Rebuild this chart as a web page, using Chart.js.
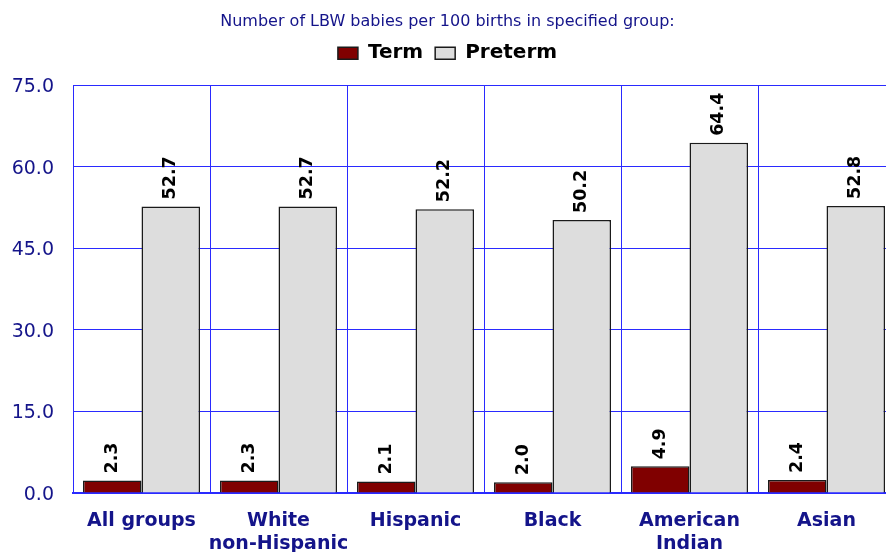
<!DOCTYPE html>
<html>
<head>
<meta charset="utf-8">
<script src="https://cdn.jsdelivr.net/npm/chart.js@4/dist/chart.umd.min.js"></script>
<style>
  html, body { margin: 0; padding: 0; background: #fff; overflow: hidden; }
  #wrap { width: 896px; height: 552px; }
</style>
</head>
<body>
<div id="wrap"><canvas id="my-chart"></canvas></div>
<script>
// chart data
const groups = [['All groups'], ['White', 'non-Hispanic'], ['Hispanic'], ['Black'], ['American', 'Indian'], ['Asian']]
const term = [2.3, 2.3, 2.1, 2.0, 4.9, 2.4]
const preterm = [52.7, 52.7, 52.2, 50.2, 64.4, 52.8]
const yTicks = [0, 15, 30, 45, 60, 75]

const font = '"DejaVu Sans", Verdana, sans-serif'
const navy = '#14148a'
const gridBlue = '#2a2aff'

// vertical value labels above the bars
const barLabels = {
  id: 'barLabels',
  beforeInit(chart) {
    // empty strip between legend and plot area
    Chart.layouts.addBox(chart, {
      position: 'top',
      weight: 0,
      fullSize: true,
      options: {},
      width: 0,
      height: 0,
      isHorizontal() { return true },
      update(maxWidth) { this.width = maxWidth; this.height = 12 },
      draw() {}
    })
  },
  afterDatasetsDraw(chart) {
    const ctx = chart.ctx
    ctx.save()
    ctx.font = 'bold 17.5px ' + font
    ctx.fillStyle = '#000'
    ctx.textAlign = 'left'
    ctx.textBaseline = 'middle'
    chart.data.datasets.forEach((ds, i) => {
      chart.getDatasetMeta(i).data.forEach((bar, j) => {
        ctx.save()
        ctx.translate(bar.x, bar.y - 7)
        ctx.rotate(-Math.PI / 2)
        ctx.fillText(ds.data[j].toFixed(1), 0, 0)
        ctx.restore()
      })
    })
    ctx.restore()
  }
}

const ctx = document.getElementById('my-chart').getContext('2d')

const myChart = new Chart(ctx, {
  type: 'bar',
  data: {
    labels: groups,
    datasets: [{
      label: 'Term',
      data: term,
      backgroundColor: '#800000',
      borderColor: '#1a1a1a',
      borderWidth: 1.5,
      categoryPercentage: 0.854,
      barPercentage: 1
    }, {
      label: 'Preterm',
      data: preterm,
      backgroundColor: '#dddddd',
      borderColor: '#1a1a1a',
      borderWidth: 1.5,
      categoryPercentage: 0.854,
      barPercentage: 1
    }]
  },
  options: {
    responsive: true,
    maintainAspectRatio: false,
    animation: false,
    layout: { padding: { left: 0, right: 1, top: 0, bottom: 0 } },
    plugins: {
      title: {
        display: true,
        text: 'Number of LBW babies per 100 births in specified group:',
        color: navy,
        font: { family: font, size: 16, weight: 'normal' },
        padding: { top: 12, bottom: 0 }
      },
      legend: {
        labels: {
          color: '#000',
          font: { family: font, size: 20, weight: 'bold' },
          boxWidth: 20,
          boxHeight: 12,
          padding: 12
        }
      },
      tooltip: { enabled: false }
    },
    scales: {
      x: {
        grid: { color: gridBlue, drawTicks: false },
        border: { color: gridBlue, width: 2 },
        ticks: {
          color: navy,
          font: { family: font, size: 19, weight: 'bold' },
          padding: 17,
          maxRotation: 0,
          autoSkip: false
        },
        afterFit: (scale) => { scale.height = 59 }
      },
      y: {
        min: 0,
        max: 75,
        afterBuildTicks: (scale) => { scale.ticks = yTicks.map(v => ({ value: v })) },
        grid: { color: gridBlue, drawTicks: false },
        border: { color: gridBlue },
        ticks: {
          color: navy,
          font: { family: font, size: 19 },
          padding: 19,
          labelOffset: 2,
          callback: (value) => value.toFixed(1)
        },
        afterFit: (scale) => { scale.width = 73 }
      }
    }
  },
  plugins: [barLabels]
})
</script>
</body>
</html>
